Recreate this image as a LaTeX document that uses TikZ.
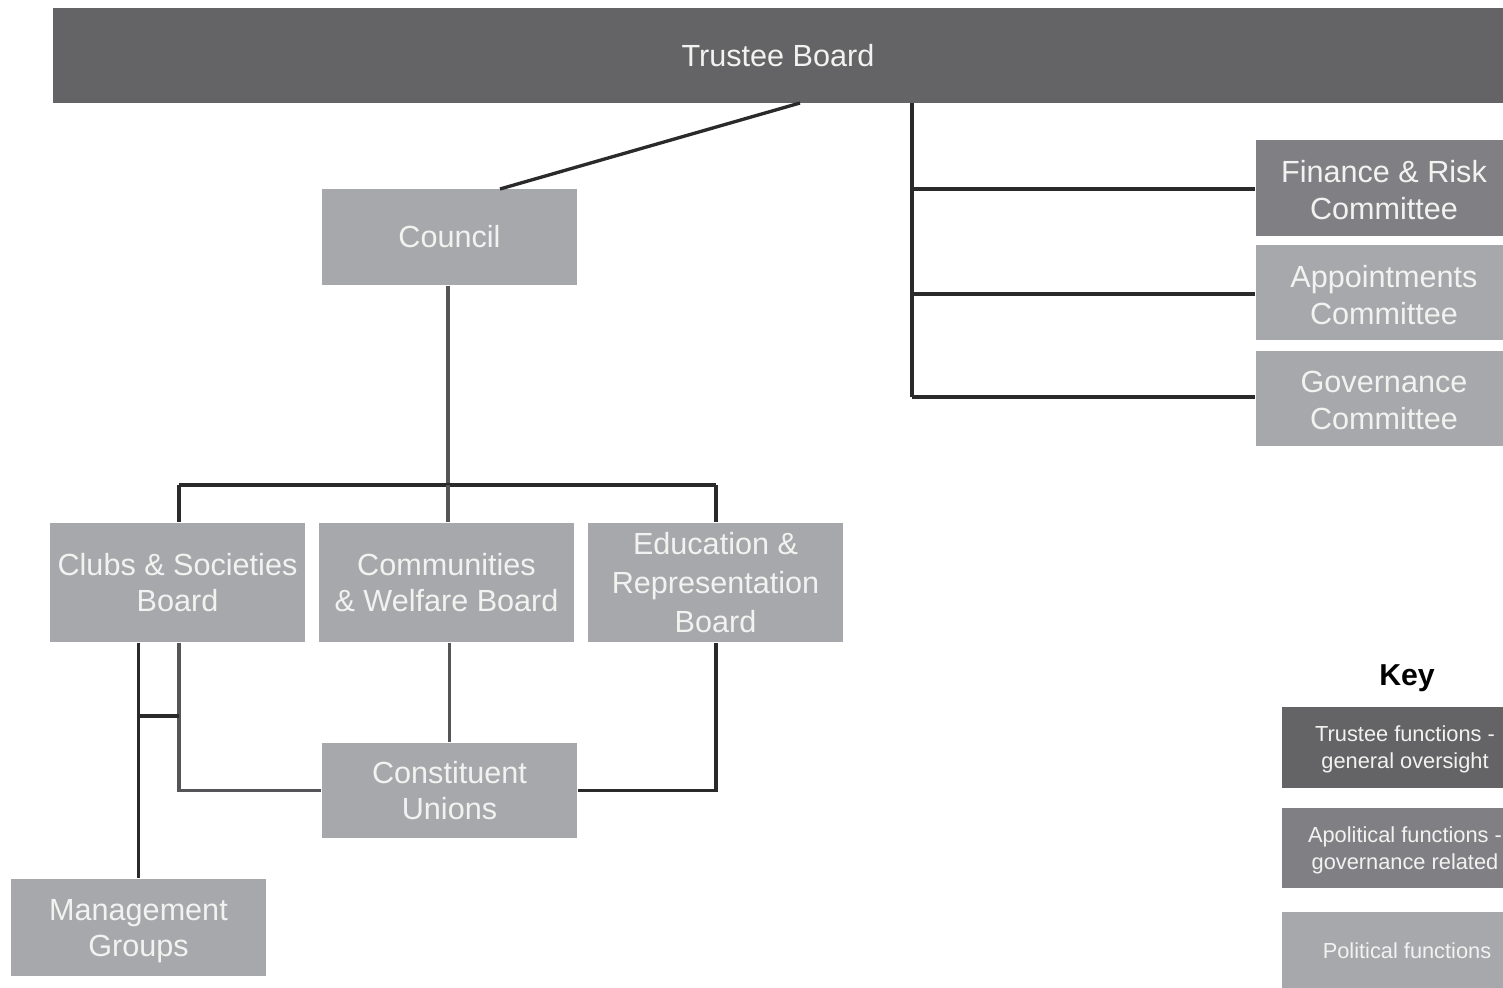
\documentclass[tikz,border=0pt]{standalone}
\usepackage{fontspec}
\setmainfont{Liberation Sans}
\definecolor{dark}{HTML}{646466}
\definecolor{mid}{HTML}{808084}
\definecolor{light}{HTML}{A7A8AB}
\definecolor{txt}{HTML}{F2F2F0}
\definecolor{ln}{HTML}{2A2A2A}
\definecolor{lngray}{HTML}{555557}
\tikzset{
  box/.style={rectangle, inner sep=0pt, align=center, text=txt,
    font=\fontsize{8.7}{10.3}\selectfont},
  keybox/.style={rectangle, inner sep=0pt, align=center, text=txt,
    font=\fontsize{6.2}{7.6}\selectfont},
  conn/.style={draw=ln, line width=0.95pt},
  conng/.style={draw=lngray, line width=0.95pt},
}
\begin{document}
\begin{tikzpicture}[x=0.01cm,y=-0.01cm]
\useasboundingbox (0,0) rectangle (1503,988);
\clip (0,0) rectangle (1503,988);
% nodes
\node[box, fill=dark, minimum width=14.50cm, minimum height=0.95cm] (tb) at (778,55.5) {\raisebox{-0.7pt}{Trustee Board}};
\node[box, fill=light, minimum width=2.55cm, minimum height=0.96cm] (council) at (449.5,237) {Council};
\node[box, fill=light, minimum width=2.55cm, minimum height=1.19cm] (clubs) at (177.5,582.5) {Clubs \& Societies\\Board};
\node[box, fill=light, minimum width=2.55cm, minimum height=1.19cm] (comm) at (446.5,582.5) {Communities\\\& Welfare Board};
\node[box, fill=light, minimum width=2.55cm, minimum height=1.19cm, font=\fontsize{8.7}{11}\selectfont] (edu) at (715.5,582.5) {Education \&\\Representation\\Board};
\node[box, fill=light, minimum width=2.55cm, minimum height=0.95cm] (cu) at (449.5,790.5) {Constituent\\Unions};
\node[box, fill=light, minimum width=2.55cm, minimum height=0.97cm] (mg) at (138.5,927.5) {};
\node[box, anchor=center] (mgt) at (138.5,931) {Management\\Groups};
\node[box, fill=mid, minimum width=2.54cm, minimum height=0.96cm] (fin) at (1383,188) {};
\node[box] (fint) at (1384,190) {Finance \& Risk\\Committee};
\node[box, fill=light, minimum width=2.54cm, minimum height=0.95cm] (app) at (1383,292.5) {};
\node[box] (appt) at (1384,295) {Appointments\\Committee};
\node[box, fill=light, minimum width=2.54cm, minimum height=0.95cm] (gov) at (1383,398.5) {};
\node[box] (govt) at (1384,400.5) {Governance\\Committee};
% key
\node[font=\fontsize{8.6}{10}\selectfont\bfseries, text=black, inner sep=0pt] (key) at (1407,678) {Key};
\node[keybox, fill=dark, minimum width=2.50cm, minimum height=0.81cm] (k1) at (1407,747.5) {};
\node[keybox] (k1t) at (1405,749.5) {Trustee functions -\\general oversight};
\node[keybox, fill=mid, minimum width=2.50cm, minimum height=0.80cm] (k2) at (1407,848) {};
\node[keybox] (k2t) at (1405,850) {Apolitical functions -\\governance related};
\node[keybox, fill=light, minimum width=2.50cm, minimum height=0.78cm] (k3) at (1407,951) {Political functions};
% coordinates
\coordinate (tbc) at (800,103);
\coordinate (ctop) at (500,189);
\coordinate (bar) at (448,485);
\coordinate (barL) at (179,485);
\coordinate (barR) at (716,485);
\coordinate (rv) at (912,103);
% connectors
\draw[conn] (tbc) -- (ctop);
\draw[conng] (council.south -| bar) -- (bar);
\draw[conn] (barL) -- (barR);
\draw[conn] (barL) -- (barL |- clubs.north);
\draw[conng] (bar) -- (bar |- comm.north);
\draw[conn] (barR) -- (barR |- edu.north);
\draw[conng] (comm.south -| cu) -- (cu.north);
\draw[conng] (clubs.south -| barL) |- (cu.west);
\draw[conn] (edu.south -| barR) |- (cu.east);
\coordinate (mgx) at (138,716);
\draw[conn] (clubs.south -| mg) -- (mg.north);
\draw[conn] (mgx) -- (mgx -| barL);
\draw[conn] (rv) -- (912,397);
\draw[conn] (912,189) -- (fin.west |- 0,189);
\draw[conn] (912,294) -- (app.west |- 0,294);
\draw[conn] (912,397) -- (gov.west |- 0,397);
\end{tikzpicture}
\end{document}
